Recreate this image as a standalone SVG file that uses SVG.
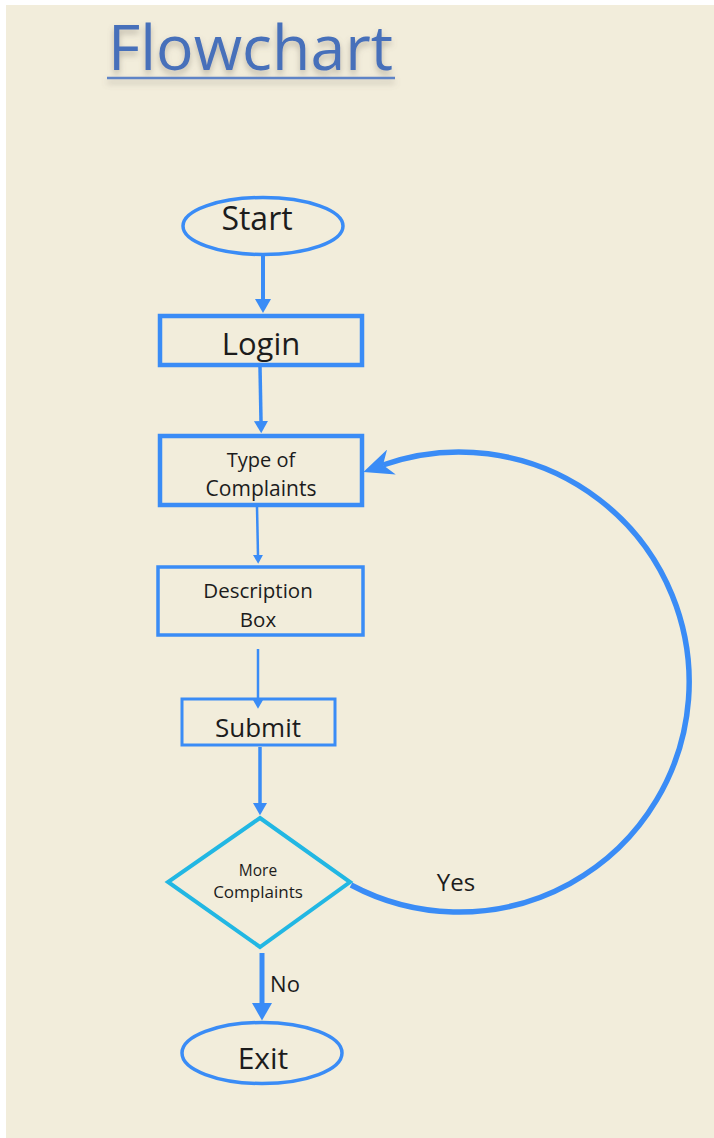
<svg xmlns="http://www.w3.org/2000/svg" width="714" height="1138" viewBox="0 0 714 1138">
  <defs>
    <style>
      .lbl { font-family: "Open Sans", "DejaVu Sans", sans-serif; fill: #1c1c1c; text-anchor: middle; }
      .shape { fill: none; stroke: #3a8cf6; }
      .flow { fill: none; stroke: #3a8cf6; stroke-linecap: butt; }
      .title { font-family: "Open Sans", "Liberation Sans", sans-serif; font-size: 63px; fill: #4670ba; }
    </style>
    <!-- solid head, scales with the line width -->
    <marker id="head" viewBox="0 0 10 10" refX="0" refY="5" markerWidth="3.5" markerHeight="4"
            markerUnits="strokeWidth" preserveAspectRatio="none" orient="auto">
      <path d="M0,0 L10,5 L0,10 z" fill="#3a8cf6"/>
    </marker>
    <!-- barbed head for the loop-back curve -->
    <marker id="barb" viewBox="0 0 10 10" refX="3" refY="5" markerWidth="5.4" markerHeight="4.8"
            markerUnits="strokeWidth" preserveAspectRatio="none" orient="auto">
      <path d="M0,0 L10,5 L0,10 L3,5 z" fill="#3a8cf6"/>
    </marker>
    <filter id="soft" x="-10%" y="-30%" width="120%" height="170%">
      <feDropShadow dx="0" dy="4" stdDeviation="3" flood-color="#7a7468" flood-opacity="0.45"/>
    </filter>
  </defs>

  <!-- page -->
  <rect x="0" y="0" width="714" height="1138" fill="#ffffff"/>
  <rect x="6" y="5" width="708" height="1133" fill="#f2eddb"/>

  <!-- heading -->
  <g id="title" filter="url(#soft)">
    <text class="title" x="108" y="70" textLength="285" lengthAdjust="spacingAndGlyphs">Flowchart</text>
    <line x1="107" y1="78" x2="395" y2="78" stroke="#5f84c6" stroke-width="2.5"/>
  </g>

  <!-- connectors -->
  <g id="connectors">
    <line class="flow" x1="263" y1="256" x2="263" y2="299" stroke-width="4" marker-end="url(#head)"/>
    <line class="flow" x1="260" y1="367" x2="261" y2="421" stroke-width="3.5" marker-end="url(#head)"/>
    <line class="flow" x1="257" y1="507" x2="258" y2="555" stroke-width="2.5" marker-end="url(#head)"/>
    <line class="flow" x1="258" y1="649" x2="258" y2="700" stroke-width="2.5" marker-end="url(#head)"/>
    <line class="flow" x1="260" y1="747" x2="260" y2="803" stroke-width="3.5" marker-end="url(#head)"/>
    <line class="flow" x1="262" y1="953" x2="262" y2="1003" stroke-width="5" marker-end="url(#head)"/>
    <path class="flow" d="M351,885 A230,230 0 1 0 383,465" stroke-width="5.5" marker-end="url(#barb)"/>
    <text class="lbl" x="456" y="891" font-size="24">Yes</text>
    <text class="lbl" x="285" y="992" font-size="22">No</text>
  </g>

  <g id="start">
    <ellipse class="shape" cx="263" cy="226" rx="80" ry="28.5" stroke-width="3.5"/>
    <text class="lbl" x="257" y="230" font-size="32">Start</text>
  </g>

  <g id="login">
    <rect class="shape" x="160" y="316" width="202" height="49" stroke-width="4.5"/>
    <text class="lbl" x="261" y="355" font-size="31">Login</text>
  </g>

  <g id="type-of-complaints">
    <rect class="shape" x="160" y="436" width="202" height="69" stroke-width="4.5"/>
    <text class="lbl" x="261" y="467" font-size="20">Type of</text>
    <text class="lbl" x="261" y="496" font-size="21">Complaints</text>
  </g>

  <g id="description-box">
    <rect class="shape" x="158" y="567" width="205" height="68" stroke-width="3.5"/>
    <text class="lbl" x="258" y="598" font-size="20.5">Description</text>
    <text class="lbl" x="258" y="627" font-size="20.5">Box</text>
  </g>

  <g id="submit">
    <rect class="shape" x="182" y="699" width="153" height="46" stroke-width="3"/>
    <text class="lbl" x="258" y="737" font-size="26">Submit</text>
  </g>

  <g id="more-complaints">
    <polygon points="260,818 350,882 260,947 168,882" fill="none" stroke="#22b7e3" stroke-width="4"/>
    <text class="lbl" x="258" y="876" font-size="15.5">More</text>
    <text class="lbl" x="258" y="898" font-size="17">Complaints</text>
  </g>

  <g id="exit">
    <ellipse class="shape" cx="262" cy="1053" rx="80" ry="30.5" stroke-width="3.5"/>
    <text class="lbl" x="263" y="1069" font-size="30">Exit</text>
  </g>
</svg>
